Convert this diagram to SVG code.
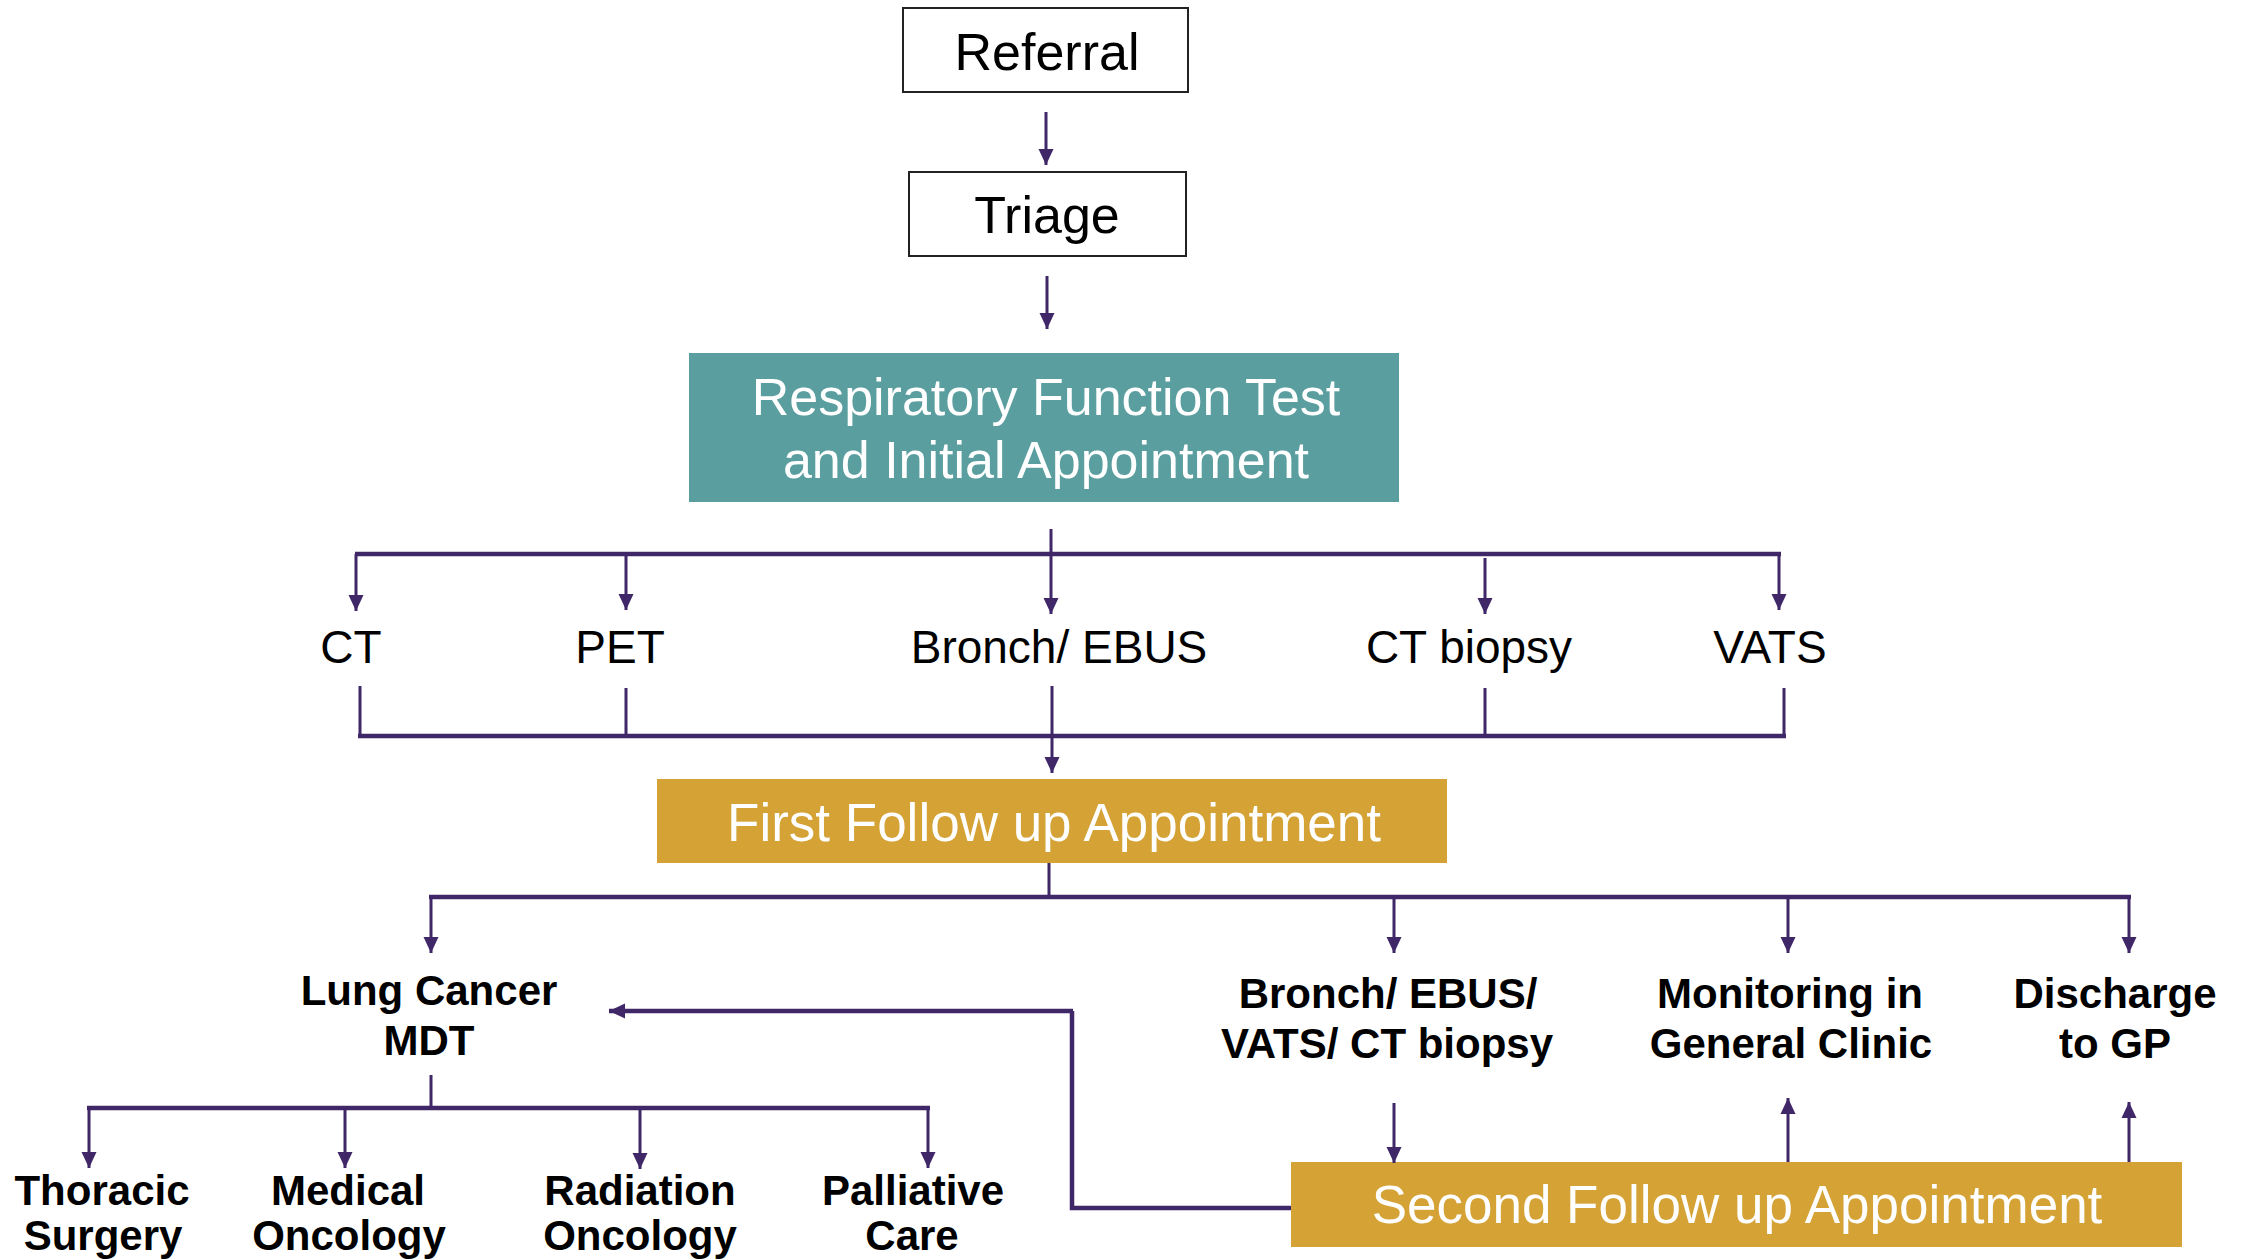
<svg xmlns="http://www.w3.org/2000/svg" width="2244" height="1260" viewBox="0 0 2244 1260">
<style>
.box{fill:#fff;stroke:#222;stroke-width:2}
.teal{fill:#5A9E9F}
.gold{fill:#D4A235}
.t{font-family:"Liberation Sans",Arial,sans-serif;text-anchor:middle}
.big{font-size:52px;fill:#000}
.wh{font-size:53px;fill:#fff}
.mid{font-size:46px;fill:#000}
.bold{font-size:42px;font-weight:bold;fill:#000}
.ln{stroke:#3F2768;stroke-width:3;fill:none}
.bar{stroke:#3F2768;stroke-width:4.5;fill:none}
.arr{marker-end:url(#ah)}
</style>
<defs>
<marker id="ah" markerUnits="userSpaceOnUse" markerWidth="18" markerHeight="18" viewBox="0 0 18 18" refX="16" refY="9" orient="auto">
<path d="M0,1.5 L16,9 L0,16.5 Z" fill="#3F2768"/>
</marker>
</defs>
<g id="referral"><rect class="box" x="903" y="8" width="285" height="84"/><text class="t big" x="1047" y="70">Referral</text></g>
<g id="triage"><rect class="box" x="909" y="172" width="277" height="84"/><text class="t big" x="1047" y="233">Triage</text></g>
<g id="rft"><rect class="teal" x="689" y="353" width="710" height="149"/><text class="t big" x="1046" y="415" fill="#fff" style="fill:#fff">Respiratory Function Test</text><text class="t big" style="fill:#fff" x="1046" y="478">and Initial Appointment</text></g>
<g id="ct"><text class="t mid" x="351" y="663">CT</text></g>
<g id="pet"><text class="t mid" x="620" y="663">PET</text></g>
<g id="bronch"><text class="t mid" x="1059" y="663">Bronch/ EBUS</text></g>
<g id="ctbiopsy"><text class="t mid" x="1469" y="663">CT biopsy</text></g>
<g id="vats"><text class="t mid" x="1770" y="663">VATS</text></g>
<g id="first"><rect class="gold" x="657" y="779" width="790" height="84"/><text class="t wh" x="1054" y="841">First Follow up Appointment</text></g>
<g id="mdt"><text class="t bold" x="429" y="1005">Lung Cancer</text><text class="t bold" x="429" y="1055">MDT</text></g>
<g id="bronch2"><text class="t bold" x="1388" y="1008">Bronch/ EBUS/</text><text class="t bold" x="1387" y="1058">VATS/ CT biopsy</text></g>
<g id="monitoring"><text class="t bold" x="1790" y="1008">Monitoring in</text><text class="t bold" x="1791" y="1058">General Clinic</text></g>
<g id="discharge"><text class="t bold" x="2115" y="1008">Discharge</text><text class="t bold" x="2115" y="1058">to GP</text></g>
<g id="thoracic"><text class="t bold" x="102" y="1205">Thoracic</text><text class="t bold" x="103" y="1250">Surgery</text></g>
<g id="medical"><text class="t bold" x="348" y="1205">Medical</text><text class="t bold" x="349" y="1250">Oncology</text></g>
<g id="radiation"><text class="t bold" x="640" y="1205">Radiation</text><text class="t bold" x="640" y="1250">Oncology</text></g>
<g id="palliative"><text class="t bold" x="913" y="1205">Palliative</text><text class="t bold" x="912" y="1250">Care</text></g>
<g id="second"><rect class="gold" x="1291" y="1162" width="891" height="85"/><text class="t wh" x="1737" y="1223">Second Follow up Appointment</text></g>
<g id="connectors">
<line class="ln arr" x1="1046" y1="112" x2="1046" y2="165"/>
<line class="ln arr" x1="1047" y1="276" x2="1047" y2="329"/>
<line class="ln" x1="1051" y1="529" x2="1051" y2="554"/>
<line class="bar" x1="355" y1="554" x2="1781" y2="554"/>
<line class="ln arr" x1="356" y1="554" x2="356" y2="611"/>
<line class="ln arr" x1="626" y1="554" x2="626" y2="610"/>
<line class="ln arr" x1="1051" y1="554" x2="1051" y2="614"/>
<line class="ln arr" x1="1485" y1="558" x2="1485" y2="614"/>
<line class="ln arr" x1="1779" y1="554" x2="1779" y2="610"/>
<line class="ln" x1="360" y1="686" x2="360" y2="736"/>
<line class="ln" x1="626" y1="688" x2="626" y2="736"/>
<line class="ln" x1="1485" y1="688" x2="1485" y2="736"/>
<line class="ln" x1="1784" y1="688" x2="1784" y2="736"/>
<line class="bar" x1="358" y1="736" x2="1786" y2="736"/>
<line class="ln arr" x1="1052" y1="686" x2="1052" y2="773"/>
<line class="ln" x1="1049" y1="863" x2="1049" y2="897"/>
<line class="bar" x1="429" y1="897" x2="2131" y2="897"/>
<line class="ln arr" x1="431" y1="897" x2="431" y2="953"/>
<line class="ln arr" x1="1394" y1="897" x2="1394" y2="953"/>
<line class="ln arr" x1="1788" y1="897" x2="1788" y2="953"/>
<line class="ln arr" x1="2129" y1="897" x2="2129" y2="953"/>
<line class="ln" x1="431" y1="1075" x2="431" y2="1108"/>
<line class="bar" x1="87" y1="1108" x2="930" y2="1108"/>
<line class="ln arr" x1="89" y1="1108" x2="89" y2="1168"/>
<line class="ln arr" x1="345" y1="1106" x2="345" y2="1168"/>
<line class="ln arr" x1="640" y1="1108" x2="640" y2="1169"/>
<line class="ln arr" x1="928" y1="1108" x2="928" y2="1168"/>
<line class="ln arr" x1="1394" y1="1103" x2="1394" y2="1163"/>
<line class="ln arr" x1="1788" y1="1162" x2="1788" y2="1098"/>
<line class="ln arr" x1="2129" y1="1162" x2="2129" y2="1102"/>
<polyline class="bar" points="1291,1208 1072,1208 1072,1011"/>
<line class="bar arr" x1="1073" y1="1011" x2="609" y2="1011"/>
</g>
</svg>
